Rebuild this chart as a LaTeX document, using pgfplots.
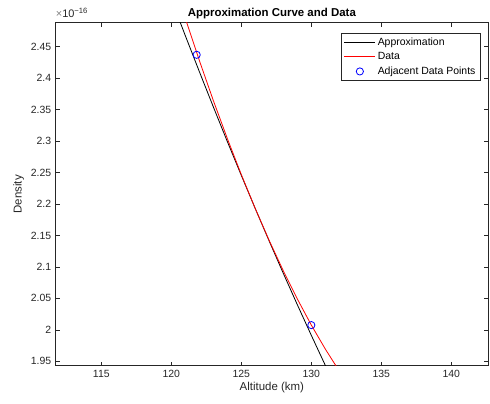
\documentclass[border=0pt]{standalone}
\usepackage{pgfplots}
\pgfplotsset{compat=1.18}
\usepackage{fontspec}
\setmainfont{Liberation Sans}
\definecolor{axgray}{gray}{0.15}
\definecolor{mblue}{rgb}{0,0,1}
\definecolor{mred}{rgb}{1,0,0}
\begin{document}
\begin{tikzpicture}
\begin{axis}[
  scale only axis, width=432.3bp, height=343bp,
  xmin=111.74, xmax=142.62, ymin=1.943, ymax=2.488,
  xtick={115,120,125,130,135,140},
  xticklabels={115,120,125,130,135,140},
  ytick={1.95,2,2.05,2.1,2.15,2.2,2.25,2.3,2.35,2.4,2.45},
  yticklabels={1.95,2,2.05,2.1,2.15,2.2,2.25,2.3,2.35,2.4,2.45},
  tick align=inside, major tick length=4bp,
  tick style={axgray, line width=0.5bp},
  axis line style={axgray, line width=0.6bp},
  every tick label/.append style={font=\fontsize{10.5}{12}\selectfont, text=axgray},
  xticklabel style={yshift=-1bp},
  yticklabel style={xshift=-1bp},
  /pgf/number format/assume math mode=true,
  xlabel={Altitude (km)}, ylabel={Density},
  xlabel style={font=\fontsize{11.5}{13}\selectfont, text=axgray, yshift=2bp},
  ylabel style={font=\fontsize{11.5}{13}\selectfont, text=axgray},
  legend style={at={(rel axis cs:0.9831,0.969)}, anchor=north east,
    draw=axgray, line width=0.5bp, font=\fontsize{10.5}{12}\selectfont,
    inner xsep=3bp, inner ysep=2bp, row sep=1.8bp, cells={anchor=west}},
  legend image code/.code={\draw[mark repeat=2,mark phase=2,#1] plot coordinates {(0bp,0bp) (15.5bp,0bp) (31bp,0bp)};},
  clip=true,
]
\addplot[black, line width=0.8bp] coordinates {
(120,2.5255) (121,2.4673) (122,2.4103) (123,2.3542) (124,2.2992) (125,2.2453)
(126,2.1924) (127,2.1405) (128,2.0897) (129,2.0399) (130,1.9912) (131,1.9435) (132,1.8969)};
\addlegendentry{Approximation}
\addplot[mred, line width=0.8bp] coordinates {
(120,2.5648) (121,2.4948) (122,2.4280) (123,2.3643) (124,2.3039) (125,2.2466)
(126,2.1924) (127,2.1415) (128,2.0937) (129,2.0491) (130,2.0075) (131,1.9694) (132,1.9344)};
\addlegendentry{Data}
\addplot[only marks, mark=o, mark size=3.6bp, mblue, line width=0.8bp] coordinates {
(121.81,2.437) (130.0,2.0075)};
\addlegendentry{Adjacent Data Points}
\coordinate (bl) at (rel axis cs:0,0);
\coordinate (tr) at (rel axis cs:1,1);
\coordinate (tc) at (rel axis cs:0.5,1);
\coordinate (tl) at (rel axis cs:0,1);
\end{axis}
\node[anchor=base, font=\bfseries\fontsize{11.5}{13}\selectfont, inner sep=0] at ([yshift=6.2bp]tc) {Approximation Curve and Data};
\node[anchor=base west, font=\fontsize{11}{12}\selectfont, text=axgray, inner sep=0] at ([yshift=5.5bp]tl) {{\color{gray}×}10\textsuperscript{−16}};
\pgfresetboundingbox
\path ([shift={(-55.7bp,-38.3bp)}]bl) rectangle ([shift={(2bp,22.7bp)}]tr);
\end{tikzpicture}
\end{document}
